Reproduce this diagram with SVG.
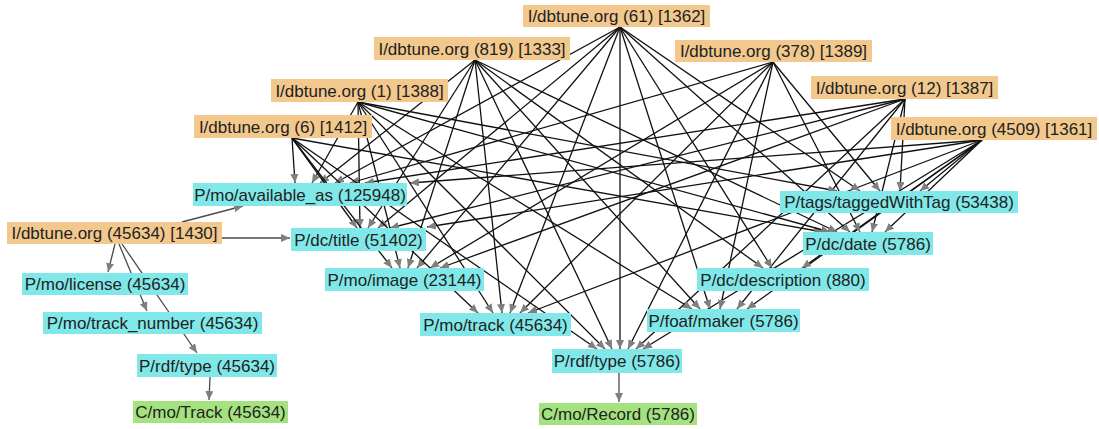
<svg xmlns="http://www.w3.org/2000/svg" width="1099" height="429" viewBox="0 0 1099 429">
<style>
.e{stroke:#111;stroke-width:1.3;fill:none;marker-end:url(#ah)}
.s{stroke:#4a4a4a;}
.t{font-family:"Liberation Sans",Arial,sans-serif;font-size:17px;fill:#222;text-anchor:middle}
.i{fill:#F2C88D}
.p{fill:#80E8E8}
.c{fill:#A3E27F}
</style>
<defs>
<marker id="ah" markerUnits="userSpaceOnUse" markerWidth="9" markerHeight="8" refX="9" refY="4" orient="auto">
<path d="M0,0 L9,4 L0,8 z" fill="#7f7f7f"/>
</marker>
</defs>
<rect width="1099" height="429" fill="#fff"/>
<g id="connectors">
<!-- available_as -->
<line class="e" x1="292" y1="138" x2="295" y2="183"/>
<line class="e" x1="358" y1="102" x2="312" y2="183"/>
<line class="e" x1="475" y1="60" x2="320" y2="183"/>
<line class="e" x1="620" y1="27" x2="335" y2="183"/>
<line class="e" x1="773" y1="62" x2="350" y2="183"/>
<line class="e" x1="905" y1="99" x2="365" y2="183"/>
<line class="e" x1="982" y1="140" x2="410" y2="183"/>
<!-- dc/title -->
<line class="e" x1="292" y1="138" x2="357" y2="228"/>
<line class="e" x1="358" y1="102" x2="360" y2="228"/>
<line class="e" x1="475" y1="60" x2="368" y2="228"/>
<line class="e" x1="620" y1="27" x2="378" y2="228"/>
<line class="e" x1="905" y1="99" x2="390" y2="228"/>
<line class="e" x1="982" y1="140" x2="427" y2="227"/>
<!-- mo/image -->
<line class="e" x1="292" y1="138" x2="392" y2="268"/>
<line class="e" x1="358" y1="102" x2="400" y2="268"/>
<line class="e" x1="475" y1="60" x2="408" y2="268"/>
<line class="e" x1="620" y1="27" x2="417" y2="268"/>
<line class="e" x1="773" y1="62" x2="430" y2="268"/>
<line class="e" x1="905" y1="99" x2="440" y2="268"/>
<!-- mo/track -->
<line class="e" x1="292" y1="138" x2="478" y2="313"/>
<line class="e" x1="358" y1="102" x2="493" y2="313"/>
<line class="e" x1="475" y1="60" x2="502" y2="313"/>
<line class="e" x1="620" y1="27" x2="510" y2="313"/>
<line class="e" x1="773" y1="62" x2="520" y2="313"/>
<line class="e" x1="982" y1="140" x2="528" y2="313"/>
<!-- rdf/type 5786 -->
<line class="e" x1="292" y1="138" x2="597" y2="349"/>
<line class="e" x1="358" y1="102" x2="605" y2="349"/>
<line class="e" x1="475" y1="60" x2="612" y2="349"/>
<line class="e" x1="620" y1="27" x2="620" y2="349"/>
<line class="e" x1="773" y1="62" x2="628" y2="349"/>
<line class="e" x1="905" y1="99" x2="636" y2="349"/>
<line class="e" x1="982" y1="140" x2="643" y2="349"/>
<!-- foaf/maker -->
<line class="e" x1="358" y1="102" x2="692" y2="309"/>
<line class="e" x1="475" y1="60" x2="700" y2="309"/>
<line class="e" x1="620" y1="27" x2="710" y2="309"/>
<line class="e" x1="773" y1="62" x2="720" y2="309"/>
<line class="e" x1="905" y1="99" x2="737" y2="309"/>
<line class="e" x1="982" y1="140" x2="747" y2="309"/>
<!-- dc/description -->
<line class="e" x1="475" y1="60" x2="763" y2="268"/>
<line class="e" x1="620" y1="27" x2="772" y2="268"/>
<line class="e" x1="982" y1="140" x2="802" y2="268"/>
<!-- dc/date -->
<line class="e" x1="292" y1="138" x2="823" y2="232"/>
<line class="e" x1="358" y1="102" x2="830" y2="232"/>
<line class="e" x1="475" y1="60" x2="837" y2="232"/>
<line class="e" x1="620" y1="27" x2="850" y2="232"/>
<line class="e" x1="773" y1="62" x2="860" y2="232"/>
<line class="e" x1="905" y1="99" x2="872" y2="232"/>
<line class="e" x1="982" y1="140" x2="885" y2="232"/>
<!-- taggedWithTag -->
<line class="e" x1="358" y1="102" x2="837" y2="191"/>
<line class="e" x1="620" y1="27" x2="860" y2="191"/>
<line class="e" x1="773" y1="62" x2="880" y2="191"/>
<line class="e" x1="905" y1="99" x2="900" y2="191"/>
<line class="e" x1="982" y1="140" x2="920" y2="191"/>
<!-- left cluster -->
<line class="e s" x1="182" y1="222" x2="243" y2="206"/>
<line class="e s" x1="222" y1="238" x2="290" y2="238"/>
<line class="e s" x1="115" y1="244" x2="108" y2="272"/>
<line class="e s" x1="119" y1="244" x2="147" y2="311"/>
<line class="e s" x1="122" y1="244" x2="197" y2="353"/>
<line class="e s" x1="210" y1="377" x2="209" y2="400"/>
<line class="e s" x1="619" y1="373" x2="619" y2="402"/>
</g>
<g id="n61"><rect class="i" x="523" y="5" width="187" height="22"/><text class="t" x="616.5" y="22">I/dbtune.org (61) [1362]</text></g>
<g id="n819"><rect class="i" x="374" y="37" width="196" height="23"/><text class="t" x="472" y="55">I/dbtune.org (819) [1333]</text></g>
<g id="n378"><rect class="i" x="675" y="40" width="197" height="22"/><text class="t" x="773.5" y="57">I/dbtune.org (378) [1389]</text></g>
<g id="n1"><rect class="i" x="271" y="79" width="177" height="23"/><text class="t" x="359.5" y="97">I/dbtune.org (1) [1388]</text></g>
<g id="n12"><rect class="i" x="811" y="76" width="187" height="23"/><text class="t" x="904.5" y="94">I/dbtune.org (12) [1387]</text></g>
<g id="n6"><rect class="i" x="194" y="115" width="178" height="23"/><text class="t" x="283" y="133">I/dbtune.org (6) [1412]</text></g>
<g id="n4509"><rect class="i" x="891" y="117" width="206" height="23"/><text class="t" x="994" y="135">I/dbtune.org (4509) [1361]</text></g>
<g id="n45634"><rect class="i" x="7" y="222" width="215" height="22"/><text class="t" x="114.5" y="239">I/dbtune.org (45634) [1430]</text></g>
<g id="available_as"><rect class="p" x="193" y="183" width="214" height="23"/><text class="t" x="300" y="201">P/mo/available_as (125948)</text></g>
<g id="dc_title"><rect class="p" x="291" y="228" width="135" height="23"/><text class="t" x="358.5" y="246">P/dc/title (51402)</text></g>
<g id="mo_image"><rect class="p" x="325" y="268" width="159" height="23"/><text class="t" x="404.5" y="286">P/mo/image (23144)</text></g>
<g id="mo_license"><rect class="p" x="22" y="273" width="166" height="22"/><text class="t" x="105" y="290">P/mo/license (45634)</text></g>
<g id="mo_track_number"><rect class="p" x="43" y="312" width="219" height="22"/><text class="t" x="152.5" y="329">P/mo/track_number (45634)</text></g>
<g id="rdf_type_45634"><rect class="p" x="137" y="354" width="140" height="23"/><text class="t" x="207" y="372">P/rdf/type (45634)</text></g>
<g id="c_track"><rect class="c" x="133" y="401" width="155" height="22"/><text class="t" x="210.5" y="418">C/mo/Track (45634)</text></g>
<g id="mo_track"><rect class="p" x="420" y="313" width="151" height="23"/><text class="t" x="495.5" y="331">P/mo/track (45634)</text></g>
<g id="rdf_type_5786"><rect class="p" x="552" y="349" width="130" height="24"/><text class="t" x="617" y="367">P/rdf/type (5786)</text></g>
<g id="c_record"><rect class="c" x="539" y="403" width="158" height="22"/><text class="t" x="618" y="420">C/mo/Record (5786)</text></g>
<g id="foaf_maker"><rect class="p" x="647" y="309" width="153" height="23"/><text class="t" x="723.5" y="327">P/foaf/maker (5786)</text></g>
<g id="dc_description"><rect class="p" x="697" y="268" width="172" height="23"/><text class="t" x="783" y="286">P/dc/description (880)</text></g>
<g id="dc_date"><rect class="p" x="803" y="232" width="130" height="23"/><text class="t" x="868" y="250">P/dc/date (5786)</text></g>
<g id="tagged"><rect class="p" x="780" y="191" width="238" height="22"/><text class="t" x="899" y="208">P/tags/taggedWithTag (53438)</text></g>
</svg>
